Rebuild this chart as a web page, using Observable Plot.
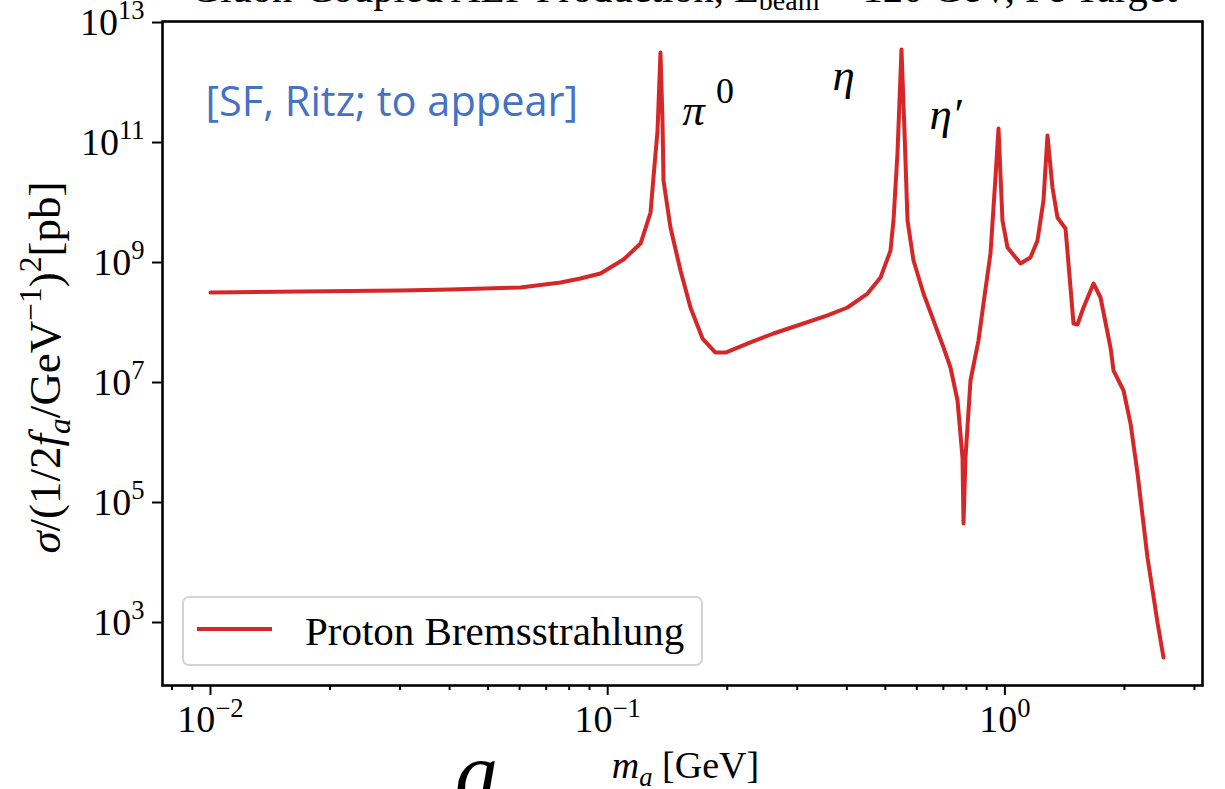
<!DOCTYPE html>
<html>
<head>
<meta charset="utf-8">
<script src="https://cdn.jsdelivr.net/npm/d3@7"></script>
<script src="https://cdn.jsdelivr.net/npm/@observablehq/plot@0.6"></script>
<style>
  html, body { margin: 0; padding: 0; background: #fff; }
  #wrap { position: relative; width: 1225px; height: 789px; overflow: hidden; background: #fff; }
  #chart { position: absolute; left: 0; top: 0; }
  #title { position: absolute; left: 0; width: 1368px; top: -31px; text-align: center;
           font-family: 'Liberation Serif', serif; font-size: 40.5px; line-height: 1; color: #000; white-space: nowrap; }
  #title sub { font-size: 28px; vertical-align: baseline; position: relative; top: 8px; }
  #legend { position: absolute; left: 182px; top: 596px; width: 517px; height: 66px;
            border: 2px solid #d4d4d4; border-radius: 7px; background: rgba(255,255,255,0.85); }
  #legend .swatch { position: absolute; left: 13px; top: 29px; width: 75px; height: 4px; background: #d62728; }
  #legend .lab { position: absolute; left: 121px; top: 9px; font-family: 'Liberation Serif', serif;
                 font-size: 41px; line-height: 48px; color: #000; white-space: nowrap; }
  #biga { position: absolute; left: 455px; top: 730px; font-family: 'Liberation Serif', serif;
          font-style: italic; font-size: 86px; line-height: 1; color: #000; }
</style>
</head>
<body>
<div id="wrap">
  <div id="chart"></div>
  <div id="title">Gluon-Coupled ALP Production, E<sub>beam</sub> = 120 GeV, Fe Target</div>
  <div id="legend"><div class="swatch"></div><div class="lab">Proton Bremsstrahlung</div></div>
  <div id="biga">a</div>
</div>
<script>
// ---- data ----
const massGeV = [
  0.0100, 0.0169, 0.0301, 0.0402, 0.0603, 0.0761, 0.0854, 0.0959, 0.1096, 0.1210,
  0.1282, 0.1304, 0.1335, 0.1358, 0.1374, 0.1382, 0.1439, 0.1525, 0.1616, 0.1733,
  0.1868, 0.1980, 0.2288, 0.2615, 0.3058, 0.3576, 0.4015, 0.4510, 0.4863, 0.5152,
  0.5242, 0.5365, 0.5491, 0.5587, 0.5686, 0.5887, 0.6239, 0.6611, 0.7006, 0.7295,
  0.7598, 0.7821, 0.7867, 0.7958, 0.8192, 0.8580, 0.8833, 0.9198, 0.9469, 0.9636,
  0.9862, 1.0151, 1.0946, 1.1598, 1.2079, 1.2507, 1.2801, 1.3176, 1.3564, 1.3964,
  1.4210, 1.4628, 1.4884, 1.5233, 1.5776, 1.6716, 1.7407, 1.8447, 1.8771, 1.9892,
  2.0717, 2.1574, 2.2856, 2.4222, 2.5078
];
const sigmaPb = [
  3.16e8, 3.29e8, 3.41e8, 3.55e8, 3.83e8, 4.65e8, 5.41e8, 6.56e8, 1.12e9, 2.07e9,
  6.81e9, 2.61e10, 1.58e11, 3.16e12, 2.33e11, 2.33e10, 3.83e9, 7.36e8, 1.78e8, 5.41e7,
  3.16e7, 3.16e7, 4.65e7, 6.56e7, 9.27e7, 1.31e8, 1.78e8, 3.04e8, 5.62e8, 1.58e9,
  5.01e9, 6.56e10, 3.55e12, 1.58e11, 5.01e9, 1.08e9, 3.04e8, 1.08e8, 3.83e7, 1.78e7,
  5.01e6, 5.62e5, 4.47e4, 5.62e5, 1.08e7, 5.01e7, 2.07e8, 1.41e9, 2.61e10, 1.71e11,
  5.01e9, 1.78e9, 9.62e8, 1.21e9, 2.33e9, 1.08e10, 1.31e11, 1.78e10, 5.62e9, 4.30e9,
  3.69e9, 3.83e8, 9.62e7, 9.27e7, 1.78e8, 4.47e8, 2.61e8, 3.83e7, 1.58e7, 7.36e6,
  2.07e6, 3.04e5, 1.21e4, 1.0e3, 2.61e2
];
const seriesName = "Proton Bremsstrahlung";
const xMajorTicks = [0.01, 0.1, 1];
const xMinorTicks = [0.008, 0.009, 0.02, 0.03, 0.04, 0.05, 0.06, 0.07, 0.08, 0.09,
                     0.2, 0.3, 0.4, 0.5, 0.6, 0.7, 0.8, 0.9, 2, 3];
const yTicks = [1e3, 1e5, 1e7, 1e9, 1e11, 1e13];
const peakNames = ["π^0", "η", "η′"];
const peakLabelMass = [0.1790, 0.3925, 0.7087];
const peakLabelSigma = [3.4e11, 1.3e12, 2.9e11];
const noteText = "[SF, Ritz; to appear]";

// ---- build tables ----
const curve = massGeV.map((m, i) => ({m, s: sigmaPb[i]}));
const peaks = peakNames.map((label, i) => ({label, m: peakLabelMass[i], s: peakLabelSigma[i]}));
const expFmt = d => "10^" + Math.round(Math.log10(d));
const RED = "#d62728";

const chart = Plot.plot({
  width: 1225,
  height: 789,
  marginLeft: 162,
  marginRight: 23,
  marginTop: 21,
  marginBottom: 104,
  style: {fontFamily: "'Liberation Serif', serif", fontSize: "38px", background: "transparent", color: "#000"},
  x: {type: "log", domain: [Math.pow(10, -2.1208), Math.pow(10, 0.4975)]},
  y: {type: "log", domain: [Math.pow(10, 1.95), Math.pow(10, 13.017)]},
  marks: [
    Plot.axisX(xMinorTicks, {tickSize: 5, strokeWidth: 2, tickFormat: () => "", label: null}),
    Plot.axisX(xMajorTicks, {tickSize: 10, strokeWidth: 2, tickPadding: 10, tickFormat: expFmt, fontSize: 38, label: null}),
    Plot.axisY(yTicks, {tickSize: 10, strokeWidth: 2, tickPadding: 8, tickFormat: expFmt, fontSize: 38, label: null}),
    Plot.line(curve, {x: "m", y: "s", stroke: RED, strokeWidth: 4, strokeLinejoin: "round"}),
    Plot.text(peaks, {x: "m", y: "s", text: "label", fontSize: 45, fontStyle: "italic", textAnchor: "middle", lineAnchor: "middle"}),
    Plot.text([noteText], {frameAnchor: "top-left", dx: 43, dy: 81, text: d => d, fill: "#4472C4",
      fontFamily: "'Open Sans', Lato, sans-serif", fontSize: 41.5, textAnchor: "start", lineAnchor: "middle"}),
    Plot.text(["m_a [GeV]"], {frameAnchor: "bottom", dy: 80, dx: 3, text: d => d, fontSize: 38, textAnchor: "middle", lineAnchor: "middle"}),
    Plot.text(["sigmaLabel"], {frameAnchor: "left", dx: -117, dy: 14, rotate: -90, text: d => d, fontSize: 45, textAnchor: "middle", lineAnchor: "middle"}),
    Plot.frame({stroke: "#000", strokeWidth: 2.6})
  ]
});
document.getElementById("chart").appendChild(chart);

// ---- rich text (super/subscripts, italics) ----
function rich(node, parts, base, supScale, supRise) {
  const sel = d3.select(node);
  sel.text(null);
  let shift = 0;
  for (const p of parts) {
    const target = p.sup ? -(supRise || 0.42) * base : p.sub ? 0.22 * base : 0;
    const t = sel.append("tspan").text(p.t);
    if (target !== shift) t.attr("dy", target - shift);
    shift = target;
    if (p.sup || p.sub) t.attr("font-size", (supScale || 0.7) * base);
    if (p.i) t.attr("font-style", "italic");
    if (p.up) t.attr("font-style", "normal");
  }
}
d3.select(chart).selectAll("text").each(function() {
  const s = this.textContent;
  if (/^10\^/.test(s)) {
    const e = s.slice(3).replace("-", "−");
    rich(this, [{t: "10"}, {t: e, sup: true}], 38);
  } else if (s === "m_a [GeV]") {
    rich(this, [{t: "m", i: true}, {t: "a", i: true, sub: true}, {t: " [GeV]"}], 38);
  } else if (s === "sigmaLabel") {
    rich(this, [{t: "σ", i: true}, {t: "/(1/2"}, {t: "f", i: true}, {t: "a", i: true, sub: true},
                {t: "/GeV"}, {t: "−1", sup: true}, {t: ")"}, {t: "2", sup: true}, {t: "[pb]"}], 45);
  } else if (s === "π^0") {
    rich(this, [{t: "π "}, {t: "0", sup: true, up: true}], 45, 0.8, 0.5);
  }
});
</script>
</body>
</html>
